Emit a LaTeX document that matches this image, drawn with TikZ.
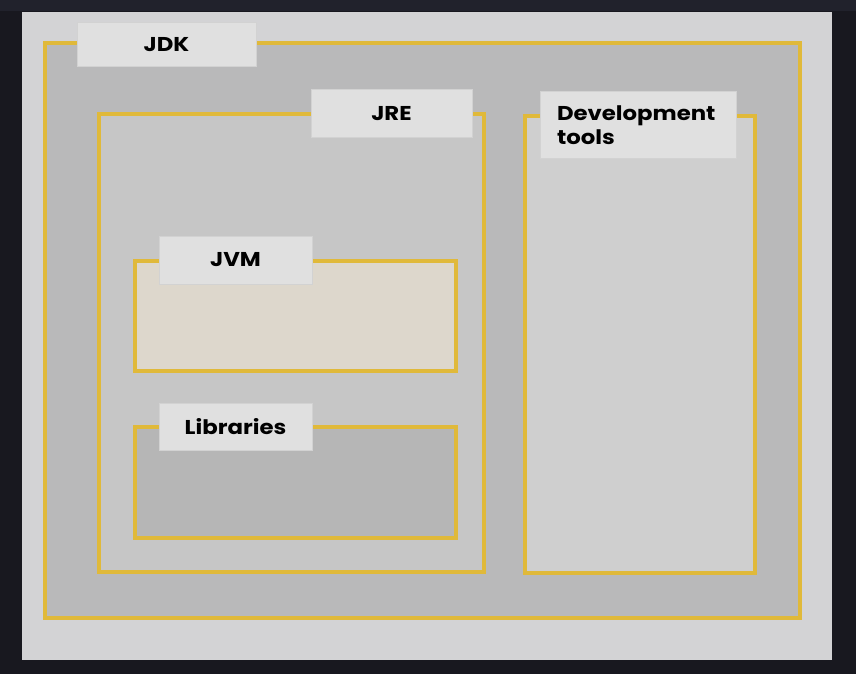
\documentclass[tikz,border=0pt]{standalone}
\usepackage{fontspec}
\setmainfont{Poppins}
\newfontfamily\tagfont[FakeStretch=1.14]{Poppins}
\usepackage{tikz}
\usetikzlibrary{positioning,backgrounds}

\definecolor{pagedark}{HTML}{18181F}
\definecolor{stripdark}{HTML}{21222C}
\definecolor{panelgrey}{HTML}{D3D3D5}
\definecolor{jdkgrey}{HTML}{B9B9BA}
\definecolor{jregrey}{HTML}{C6C6C6}
\definecolor{devgrey}{HTML}{CFCFCF}
\definecolor{jvmbeige}{HTML}{DDD7CC}
\definecolor{libgrey}{HTML}{B6B6B6}
\definecolor{tagfill}{HTML}{E0E0E0}
\definecolor{tagline}{HTML}{D2D2D2}
\definecolor{rim}{HTML}{E0B93A}

\tikzset{
  layer/.style={draw=rim, line width=3.5pt, inner sep=0pt, outer sep=0pt},
  tag/.style={fill=tagfill, draw=tagline, line width=1pt, inner sep=0pt, font=\tagfont\fontsize{20}{24}\selectfont\bfseries}
}

\begin{document}
\begin{tikzpicture}[x=1pt, y=-1pt]
	  % page and panel
	  \fill[pagedark] (0,0) rectangle (856,674);
	  \fill[stripdark] (0,0) rectangle (856,11);
	  \fill[panelgrey] (22,12) rectangle (832,660);
	  \useasboundingbox (0,0) rectangle (856,674);
	  % layers
	  \node[layer, fill=jdkgrey, minimum width=755pt, minimum height=575pt] (jdk) at (422.5,330.5) {};
	  \node[layer, fill=jregrey, minimum width=385pt, minimum height=458pt] (jre) at (291.5,343) {};
	  \node[layer, fill=devgrey, minimum width=230pt, minimum height=457pt] (dev) at (640,344.5) {};
	  \node[layer, fill=jvmbeige, minimum width=321pt, minimum height=110pt] (jvm) at (295.5,316) {};
	  \node[layer, fill=libgrey, minimum width=321pt, minimum height=111pt] (lib) at (295.5,482.5) {};
	  % tags
	  \node[tag, minimum width=179pt, minimum height=44pt] (jdktag) at ([xshift=121.5pt, yshift=-2pt]jdk.north west) {JDK};
	  \node[tag, minimum width=161pt, minimum height=47pt] (jretag) at ([xshift=-92.5pt, yshift=0.5pt]jre.north east) {JRE};
	  \node[tag, minimum width=196pt, minimum height=66pt, text width=162pt, inner xsep=17pt, align=left] (devtag) at ([xshift=-2pt, yshift=-9pt]dev.north) {Development\\tools};
	  \node[tag, minimum width=153pt, minimum height=48pt] (jvmtag) at ([xshift=100.5pt, yshift=1pt]jvm.north west) {JVM};
	  \node[tag, minimum width=153pt, minimum height=47pt] (libtag) at ([xshift=100.5pt, yshift=0.5pt]lib.north west) {Libraries};
	\end{tikzpicture}
\end{document}
